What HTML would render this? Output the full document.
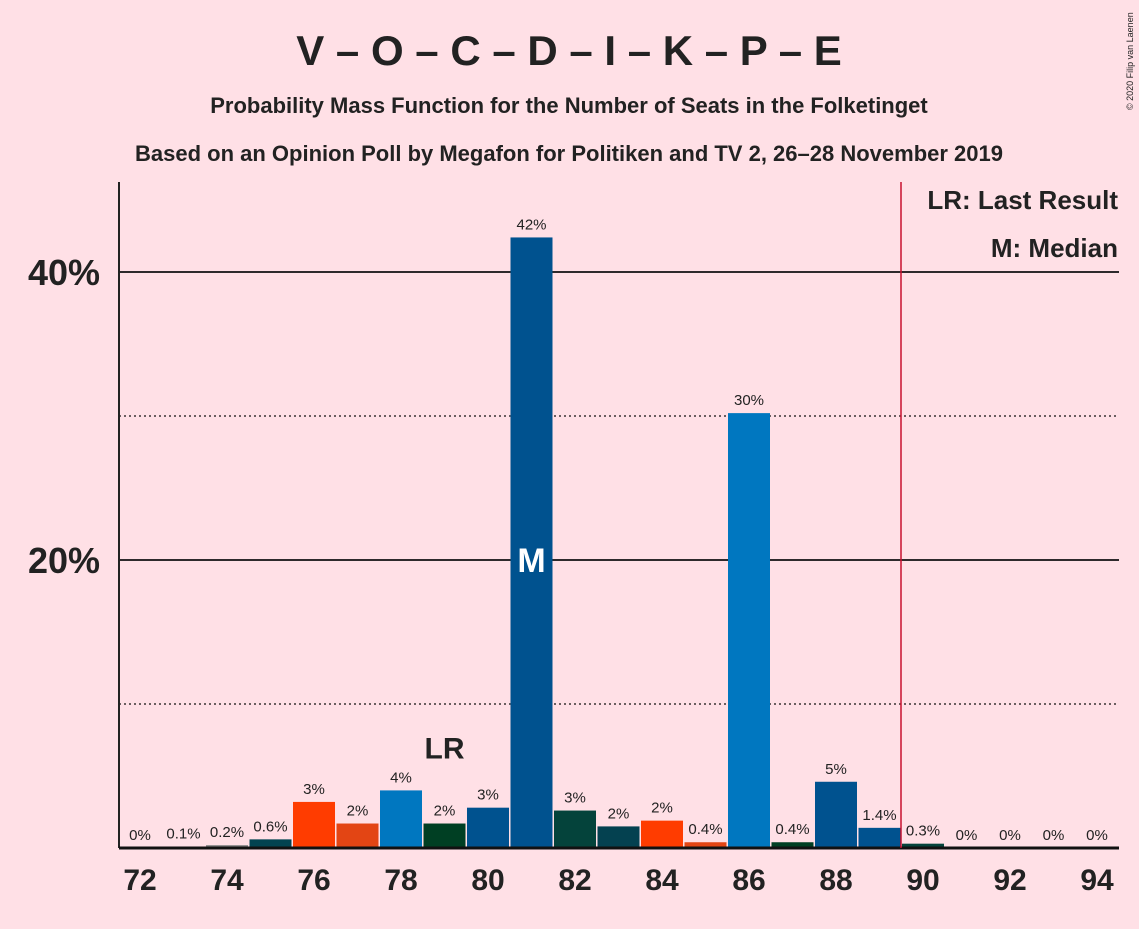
<!DOCTYPE html>
<html><head><meta charset="utf-8"><style>
body{margin:0;background:#ffe0e6;font-family:"Liberation Sans",sans-serif}
svg text{font-family:"Liberation Sans",sans-serif;fill:#222}
</style></head><body>
<svg id="c" width="1139" height="924" xmlns="http://www.w3.org/2000/svg">
<rect width="1139" height="924" fill="#ffe0e6"/>
<text x="569" y="65" text-anchor="middle" font-size="42" font-weight="bold">V – O – C – D – I – K – P – E</text>
<text x="569" y="113" text-anchor="middle" font-size="22" font-weight="bold">Probability Mass Function for the Number of Seats in the Folketinget</text>
<text x="569" y="161" text-anchor="middle" font-size="22" font-weight="bold">Based on an Opinion Poll by Megafon for Politiken and TV 2, 26–28 November 2019</text>
<text x="1133" y="110" font-size="9" transform="rotate(-90 1133 110)">© 2020 Filip van Laenen</text>
<g id="grid"></g><g id="bars"></g><g id="labels"></g>
<line x1="119" y1="182" x2="119" y2="848" stroke="#222" stroke-width="2"/>
<line x1="119" y1="848" x2="1119" y2="848" stroke="#111" stroke-width="3"/>
<line x1="901" y1="182" x2="901" y2="848" stroke="#c8102e" stroke-width="1.5"/>
<text x="1118" y="209" text-anchor="end" font-size="26" font-weight="bold">LR: Last Result</text>
<text x="1118" y="257" text-anchor="end" font-size="26" font-weight="bold">M: Median</text>
</svg>
<script>
const seats=[72,73,74,75,76,77,78,79,80,81,82,83,84,85,86,87,88,89,90,91,92,93,94];
const values=[0,0.1,0.2,0.6,3.2,1.7,4.0,1.7,2.8,42.4,2.6,1.5,1.9,0.4,30.2,0.4,4.6,1.4,0.3,0,0,0,0];
const valueLabels=["0%","0.1%","0.2%","0.6%","3%","2%","4%","2%","3%","42%","3%","2%","2%","0.4%","30%","0.4%","5%","1.4%","0.3%","0%","0%","0%","0%"];
const colors=["#888","#888","#888","#024350","#ff3c00","#e34514","#0077c0","#003f23","#00528f","#00528f","#04433b","#044150","#ff3c00","#e34514","#0077c0","#003f23","#00528f","#00528f","#04433b","#044150","#888","#888","#888"];
const yTicks=[10,20,30,40];
const xTicks=[72,74,76,78,80,82,84,86,88,90,92,94];
const lastResult=79, median=81;
const NS="http://www.w3.org/2000/svg";
const X=s=>140+(s-72)*43.5, Y=v=>848-v*14.4;
function mk(t,a,p){const e=document.createElementNS(NS,t);for(const k in a)e.setAttribute(k,a[k]);p.appendChild(e);return e;}
const g=document.getElementById('grid'),b=document.getElementById('bars'),l=document.getElementById('labels'),svg=document.getElementById('c');
yTicks.forEach(t=>{
 const ln=mk('line',{x1:119,x2:1119,y1:Y(t),y2:Y(t),stroke:'#111','stroke-width':t%20?1.2:1.8,'stroke-dasharray':t%20?'2,3':''},g);
 
 
 if(t%20===0){const tx=mk('text',{x:100,y:Y(t)+13,'text-anchor':'end','font-size':36,'font-weight':'bold'},g);tx.textContent=t+'%';
 
 }
});
xTicks.forEach(s=>{const tx=mk('text',{x:X(s),y:890,'text-anchor':'middle','font-size':30,'font-weight':'bold'},svg);tx.textContent=s;
 
 });
seats.forEach((s,i)=>{
 const v=values[i];
 if(v>0){const r=mk('rect',{x:X(s)-21,y:Y(v),width:42,height:848-Y(v),fill:colors[i]},b);
 
 }
 const tx=mk('text',{x:X(s),y:Y(v)-8,'text-anchor':'middle','font-size':15},l);tx.textContent=valueLabels[i];
 
 
});
const lr=mk('text',{x:X(lastResult),y:Y(values[seats.indexOf(lastResult)])-65,'text-anchor':'middle','font-size':30,'font-weight':'bold'},l);lr.textContent='LR';


const md=mk('text',{x:X(median),y:560+12,'text-anchor':'middle','font-size':34,'font-weight':'bold',style:'fill:#fff'},l);md.textContent='M';


</script>
</body></html>
